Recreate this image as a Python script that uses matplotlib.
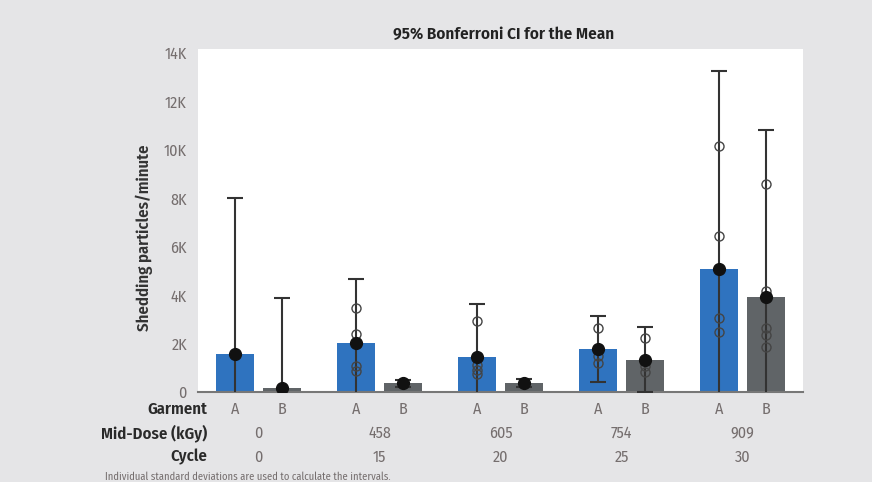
import numpy as np
import matplotlib
matplotlib.use("Agg")
import matplotlib.pyplot as plt

# data
garments = ["A", "B"]
mid_dose = ["0", "458", "605", "754", "909"]
cycles = ["0", "15", "20", "25", "30"]

mean_a = [1570, 2020, 1450, 1780, 5080]
mean_b = [170, 370, 370, 1320, 3940]
ci_high_a = [8000, 4670, 3640, 3140, 13260]
ci_high_b = [3900, 500, 530, 2680, 10820]
ci_low_a = [-5000, -600, -700, 410, -3000]
ci_low_b = [-3500, 220, 220, 20, -3000]

points_a = [[], [3470, 2400, 1070, 870], [2940, 1100, 900, 750],
            [2640, 1740, 1490, 1200], [10170, 6440, 3050, 2470]]
points_b = [[], [], [], [2220, 1300, 1070, 830], [8600, 4180, 2640, 2350, 1870]]

yticks = [0, 2000, 4000, 6000, 8000, 10000, 12000, 14000]
ytick_labels = ["0", "2K", "4K", "6K", "8K", "10K", "12K", "14K"]

plt.rcParams["font.family"] = ["Fira Sans Condensed", "Archivo Narrow", "DejaVu Sans"]

BLUE = "#2f73bf"
GRAY = "#606467"
BG = "#e5e5e7"
INK = "#333333"
LIGHT = "#756e6e"

fig = plt.figure(figsize=(8.72, 4.82), dpi=100, facecolor=BG)
ax = fig.add_axes([0.227, 0.1867, 0.694, 0.7116])
ax.set_facecolor("white")

x = np.arange(len(mid_dose))
off = 0.194
width = 0.31

for xs, means, lo, hi, pts, col in [
    (x - off, mean_a, ci_low_a, ci_high_a, points_a, BLUE),
    (x + off, mean_b, ci_low_b, ci_high_b, points_b, GRAY),
]:
    ax.bar(xs, means, width=width, color=col, zorder=2)
    means = np.array(means)
    yerr = [means - np.array(lo), np.array(hi) - means]
    ax.errorbar(xs, means, yerr=yerr, fmt="none", ecolor=INK, elinewidth=1.5,
                capsize=5.5, capthick=1.5, zorder=3)
    for xi, p in zip(xs, pts):
        ax.plot([xi] * len(p), p, "o", ms=6.5, mfc="none", mec="#444444",
                mew=1.0, zorder=4)
    ax.plot(xs, means, "o", ms=8.5, color="#111111", zorder=5)

ax.set_xlim(-0.5, 4.5)
ax.set_ylim(0, 14170)
ax.set_yticks(yticks)
ax.set_yticklabels(ytick_labels, fontsize=11.5, color=LIGHT)
ax.tick_params(axis="y", length=0, pad=8)
ax.set_xticks([])
for s in ["top", "right", "left"]:
    ax.spines[s].set_visible(False)
ax.spines["bottom"].set_color("#777777")
ax.spines["bottom"].set_linewidth(1.5)

fig.text(0.577, 0.929, "95% Bonferroni CI for the Mean", ha="center", va="center",
         fontsize=12.3, fontweight="semibold", color="#222222")
fig.text(0.166, 1 - 238 / 482, "Shedding particles/minute", rotation=90, ha="center",
         va="center", fontsize=12, fontweight="semibold", color="#333333")

# bottom category table
def fx(v):
    return fig.transFigure.inverted().transform(ax.transData.transform((v, 0)))[0]

rows_y = [1 - 409 / 482, 1 - 433 / 482, 1 - 457 / 482]
row_names = ["Garment", "Mid-Dose (kGy)", "Cycle"]
for ry, rn in zip(rows_y, row_names):
    fig.text(0.238, ry, rn, ha="right", va="center", fontsize=12,
             fontweight="semibold", color="#2a2a2a")
for i in range(len(mid_dose)):
    fig.text(fx(x[i] - off), rows_y[0], garments[0], ha="center", va="center",
             fontsize=11.5, color=LIGHT)
    fig.text(fx(x[i] + off), rows_y[0], garments[1], ha="center", va="center",
             fontsize=11.5, color=LIGHT)
    fig.text(fx(x[i]), rows_y[1], mid_dose[i], ha="center", va="center",
             fontsize=11.5, color=LIGHT)
    fig.text(fx(x[i]), rows_y[2], cycles[i], ha="center", va="center",
             fontsize=11.5, color=LIGHT)

fig.text(0.12, 1 - 477 / 482, "Individual standard deviations are used to calculate the intervals.",
         ha="left", va="center", fontsize=7.6, color=LIGHT)

fig.savefig("out.png", dpi=100, facecolor=BG)
